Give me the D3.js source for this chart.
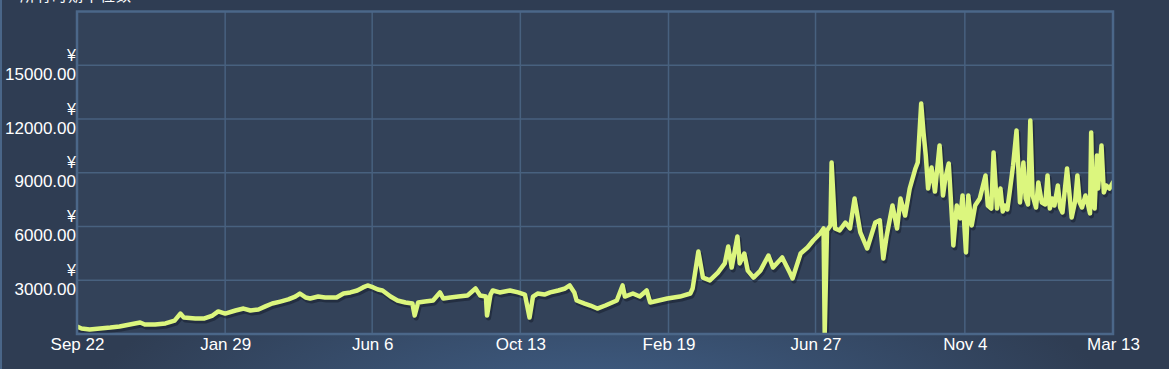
<!DOCTYPE html>
<html>
<head>
<meta charset="utf-8">
<script src="https://cdn.jsdelivr.net/npm/d3@7"></script>
<style>
  html, body { margin: 0; padding: 0; background: #2f3d53; overflow: hidden; }
  svg { display: block; }
</style>
</head>
<body>
<svg id="chart" width="1169" height="369"></svg>
<script>
// price history, days counted from the first date
const startDate = new Date(2020, 8, 22);
const endDate = new Date(2023, 2, 13);

const days = [
  0, 4, 11, 20, 29, 37, 46, 55, 59, 68, 77, 85, 90, 93, 103, 111, 118, 123, 129, 138,
  145, 151, 158, 164, 170, 177, 184, 190, 194, 199, 203, 210, 216, 226, 232, 238, 244, 249, 253,
  258, 262, 266, 273, 279, 286, 292, 294, 297, 303, 310, 316, 319, 325, 332, 340, 347, 351, 356,
  357, 360, 362, 368, 377, 384, 390, 394, 397, 401, 407, 412, 419, 425, 429, 433, 435, 442, 447,
  453, 460, 466, 470, 475, 477, 484, 490, 496,
  499, 514, 525, 534, 536, 541, 545, 551, 558, 564, 567, 570, 575, 577, 581, 584, 589, 595, 602,
  606, 614, 621, 623, 630, 636, 641, 647, 650, 651, 653, 656, 657, 660,
  664, 669, 673, 677, 682, 688, 695, 699, 702, 705, 710, 714, 717, 721, 725, 730, 732, 735,
  737, 739, 741, 744, 747, 751, 754, 756, 759, 762, 763, 766, 769, 771, 774, 776, 779, 782,
  786, 791, 793, 796, 798, 801, 804, 806, 808, 810, 812, 815, 818, 821, 824, 826, 828, 830,
  832, 835, 837, 840, 843, 845, 847, 849, 851, 854, 856, 858, 862, 866, 869, 871, 873, 875,
  878, 880, 882, 883, 884, 886, 888, 889, 892, 894, 896, 899, 902
];

const prices = [
  420, 310, 250, 310, 360, 420, 530, 640, 530, 530, 590, 750, 1140, 920, 870, 870, 1030, 1260, 1140, 1310,
  1420, 1310, 1370, 1540, 1700, 1810, 1930, 2090, 2260, 2040, 1980, 2090, 2040, 2040, 2260, 2320, 2430, 2600, 2710,
  2600, 2480, 2430, 2090, 1870, 1760, 1700, 1030, 1760, 1810, 1870, 2320, 1980, 2040, 2090, 2150, 2540, 2150, 2090,
  1030, 2200, 2430, 2320, 2430, 2320, 2200, 920, 2090, 2260, 2200, 2320, 2430, 2540, 2710, 2320, 1870, 1700, 1590,
  1420, 1590, 1760, 1870, 2710, 2090, 2260, 2090, 2430,
  1760, 1980, 2090, 2260, 2540, 4600, 3150, 2990, 3430, 3940, 4880, 3710, 5440, 3940, 4490, 3540, 3150, 3540, 4380,
  3710, 4270, 3380, 3100, 4490, 4830, 5220, 5610, 5890, 40, 5780, 6060, 9570, 5890,
  5780, 6220, 5890, 7560, 5670, 4770, 6220, 6340, 4210, 5500, 7170, 5890, 7560, 6610, 8120, 9240, 9570, 12860,
  11250, 9960, 8120, 9290, 7950, 10520, 7730, 8680, 9520, 6220, 4940, 7170, 6450, 7730, 4550, 7730, 6060, 7170,
  7560, 8850, 7170, 7000, 10130, 7000, 8120, 6840, 7170, 6950, 7900, 9400, 11360, 7340, 9570, 7560, 7230, 11920,
  7730, 7060, 8460, 7340, 7230, 8850, 7000, 7560, 7170, 8290, 7060, 6780, 9240, 6500, 7400, 8850, 7340, 7060,
  7730, 7280, 6730, 11250, 8120, 7000, 9960, 8120, 10520, 7900, 8290, 8120, 8460
];

const xTickDates = [
  new Date(2020, 8, 22), new Date(2021, 0, 29), new Date(2021, 5, 6), new Date(2021, 9, 13),
  new Date(2022, 1, 19), new Date(2022, 5, 27), new Date(2022, 10, 4), new Date(2023, 2, 13)
];
const yTicks = [3000, 6000, 9000, 12000, 15000];
const yMax = 18000;
const titleText = "所有时期中位数";

const svg = d3.select("#chart");
const W = 1169, H = 369;
const plot = { left: 77, right: 1113, top: 11.5, bottom: 334 };

// background glow
const defs = svg.append("defs");
const grad = defs.append("radialGradient")
  .attr("id", "bgGlow")
  .attr("gradientUnits", "userSpaceOnUse")
  .attr("cx", 600).attr("cy", 420).attr("r", 520)
  .attr("gradientTransform", "translate(600,420) scale(1,0.35) translate(-600,-420)");
grad.append("stop").attr("offset", "0%").attr("stop-color", "#41618a");
grad.append("stop").attr("offset", "100%").attr("stop-color", "#2f3d53");

svg.append("rect").attr("width", W).attr("height", H).attr("fill", "url(#bgGlow)");
svg.append("line")
  .attr("x1", 1).attr("x2", 1).attr("y1", 0).attr("y2", H)
  .attr("stroke", "#4a6688").attr("stroke-width", 2);

svg.append("text")
  .attr("x", 20).attr("y", 0.5)
  .attr("fill", "#ffffff")
  .style("font-family", "'Noto Sans CJK SC', sans-serif")
  .style("font-size", "15px")
  .style("letter-spacing", "1px")
  .text(titleText);

const x = d3.scaleTime().domain([startDate, endDate]).range([plot.left, plot.right]);
const y = d3.scaleLinear().domain([0, yMax]).range([plot.bottom, plot.top]);

svg.append("rect")
  .attr("x", plot.left).attr("y", plot.top)
  .attr("width", plot.right - plot.left).attr("height", plot.bottom - plot.top)
  .attr("fill", "#334259");

// grid
svg.append("g")
  .selectAll("line")
  .data(yTicks)
  .join("line")
  .attr("x1", plot.left).attr("x2", plot.right)
  .attr("y1", d => y(d)).attr("y2", d => y(d))
  .attr("stroke", "#48617f").attr("stroke-width", 1.5);

svg.append("g")
  .selectAll("line")
  .data(xTickDates.slice(1, -1))
  .join("line")
  .attr("x1", d => x(d)).attr("x2", d => x(d))
  .attr("y1", plot.top).attr("y2", plot.bottom)
  .attr("stroke", "#48617f").attr("stroke-width", 1.5);

// series
const series = days.map((d, i) => ({ date: d3.timeDay.offset(startDate, d), price: prices[i] }));
const line = d3.line().x(d => x(d.date)).y(d => y(d.price));

const clip = defs.append("clipPath").attr("id", "plotClip");
clip.append("rect")
  .attr("x", plot.left).attr("y", plot.top)
  .attr("width", plot.right - plot.left).attr("height", plot.bottom - plot.top);

const lines = svg.append("g").attr("clip-path", "url(#plotClip)");
lines.append("path")
  .datum(series)
  .attr("d", line)
  .attr("transform", "translate(1.5,2.5)")
  .attr("fill", "none")
  .attr("stroke", "rgba(15,22,35,0.45)")
  .attr("stroke-width", 5)
  .attr("stroke-linejoin", "round");
lines.append("path")
  .datum(series)
  .attr("d", line)
  .attr("fill", "none")
  .attr("stroke", "#dcf67e")
  .attr("stroke-width", 4.5)
  .attr("stroke-linejoin", "round")
  .attr("stroke-linecap", "round");

// plot border
svg.append("rect")
  .attr("x", plot.left).attr("y", plot.top)
  .attr("width", plot.right - plot.left).attr("height", plot.bottom - plot.top)
  .attr("fill", "none")
  .attr("stroke", "#4b6789").attr("stroke-width", 2.5);

// axes
const xAxis = svg.append("g")
  .attr("transform", `translate(0,${plot.bottom})`)
  .call(d3.axisBottom(x).tickValues(xTickDates).tickFormat(d3.timeFormat("%b %-d")).tickSize(0).tickPadding(0));
xAxis.select(".domain").remove();
xAxis.selectAll("text")
  .attr("y", 16).attr("dy", 0)
  .attr("fill", "#ffffff")
  .style("font-family", "Arial, 'Liberation Sans', sans-serif")
  .style("font-size", "17px");

const yAxis = svg.append("g")
  .attr("transform", `translate(${plot.left - 1},0)`)
  .call(d3.axisLeft(y).tickValues(yTicks).tickFormat(d3.format(".2f")).tickSize(0).tickPadding(0));
yAxis.select(".domain").remove();
yAxis.selectAll("text")
  .attr("x", 0).attr("dy", 0).attr("y", 14)
  .attr("fill", "#ffffff")
  .style("font-family", "Arial, 'Liberation Sans', sans-serif")
  .style("font-size", "17px");
yAxis.selectAll(".tick")
  .append("text")
  .attr("x", 0).attr("y", -5)
  .attr("text-anchor", "end")
  .attr("fill", "#ffffff")
  .style("font-family", "Arial, 'Liberation Sans', sans-serif")
  .style("font-size", "16px")
  .text("¥");
</script>
</body>
</html>
